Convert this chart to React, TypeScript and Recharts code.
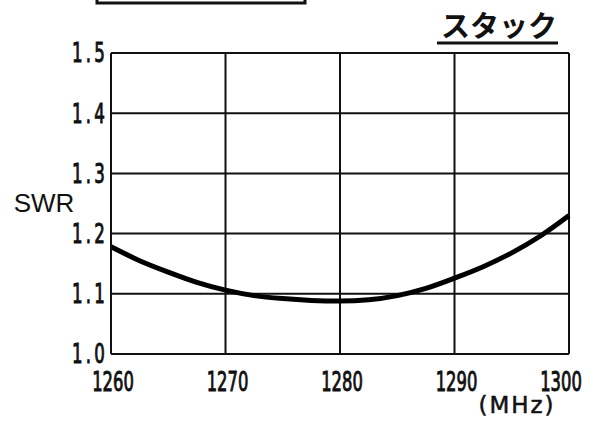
import { CartesianGrid, Line, LineChart, XAxis, YAxis } from "recharts"

const freqs = [1260, 1262.5, 1265, 1267.5, 1270, 1272.5, 1275, 1277.5, 1280, 1282.5, 1285, 1287.5, 1290, 1292.5, 1295, 1297.5, 1300]
const swrValues = [1.178, 1.155, 1.136, 1.119, 1.106, 1.097, 1.092, 1.089, 1.088, 1.09, 1.097, 1.109, 1.126, 1.145, 1.168, 1.196, 1.23]
const xTicks = [1260, 1270, 1280, 1290, 1300]
const yTicks = [1.0, 1.1, 1.2, 1.3, 1.4, 1.5]

const data = freqs.map((f, i) => ({ f, swr: swrValues[i] }))

const tickFont = "DejaVu Sans"

function YTick({ x, y, payload }: any) {
  return (
    <g transform={`translate(${x},${y}) scale(0.64,1)`}>
      <text
        textAnchor="end"
        dy="0.36em"
        fontFamily={tickFont}
        fontSize={26}
        letterSpacing={5}
        fill="#111"
        stroke="#111"
        strokeWidth={1}
      >
        {Number(payload.value).toFixed(1)}
      </text>
    </g>
  )
}

function XTick({ x, y, payload }: any) {
  // the last label is pulled in a little, like the original
  const shift = payload.value === 1300 ? -8 : 2
  return (
    <g transform={`translate(${x + shift},${y + 37}) scale(0.63,1)`}>
      <text textAnchor="middle" fontFamily={tickFont} fontSize={26} fill="#111" stroke="#111" strokeWidth={1}>
        {payload.value}
      </text>
    </g>
  )
}

export default function App() {
  return (
    <div style={{ position: "absolute", left: 0, top: 0, width: 594, height: 422, background: "#fff" }}>
      <LineChart width={594} height={422} data={data} margin={{ top: 53, right: 25, left: 41, bottom: 28 }}>
        <CartesianGrid stroke="#111" strokeWidth={2} horizontalValues={yTicks} verticalValues={xTicks} />
        <XAxis
          dataKey="f"
          type="number"
          domain={[1260, 1300]}
          ticks={xTicks}
          height={40}
          tickSize={0}
          tickMargin={0}
          axisLine={{ stroke: "#111", strokeWidth: 2 }}
          tick={<XTick />}
        />
        <YAxis
          type="number"
          domain={[1.0, 1.5]}
          ticks={yTicks}
          width={70}
          tickSize={0}
          tickMargin={3}
          axisLine={{ stroke: "#111", strokeWidth: 2 }}
          tick={<YTick />}
        />
        <Line type="monotone" dataKey="swr" stroke="#000" strokeWidth={5} dot={false} isAnimationActive={false} />
      </LineChart>
      <svg width={594} height={422} style={{ position: "absolute", left: 0, top: 0, pointerEvents: "none" }}>
        <rect x={97} y={-10} width={208} height={13} fill="none" stroke="#111" strokeWidth={3} />
        <text x={499} y={37} textAnchor="middle" fontFamily="Noto Sans CJK JP" fontSize={29} fontWeight={700} fill="#111">
          スタック
        </text>
        <line x1={437} x2={558} y1={43} y2={43} stroke="#111" strokeWidth={3} />
        <text x={44} y={212} textAnchor="middle" fontFamily="Liberation Sans" fontSize={26} fill="#111">
          SWR
        </text>
        <text x={517} y={413} textAnchor="middle" fontFamily={tickFont} fontSize={23} letterSpacing={2} fill="#111" stroke="#111" strokeWidth={0.5}>
          (MHz)
        </text>
      </svg>
    </div>
  )
}
